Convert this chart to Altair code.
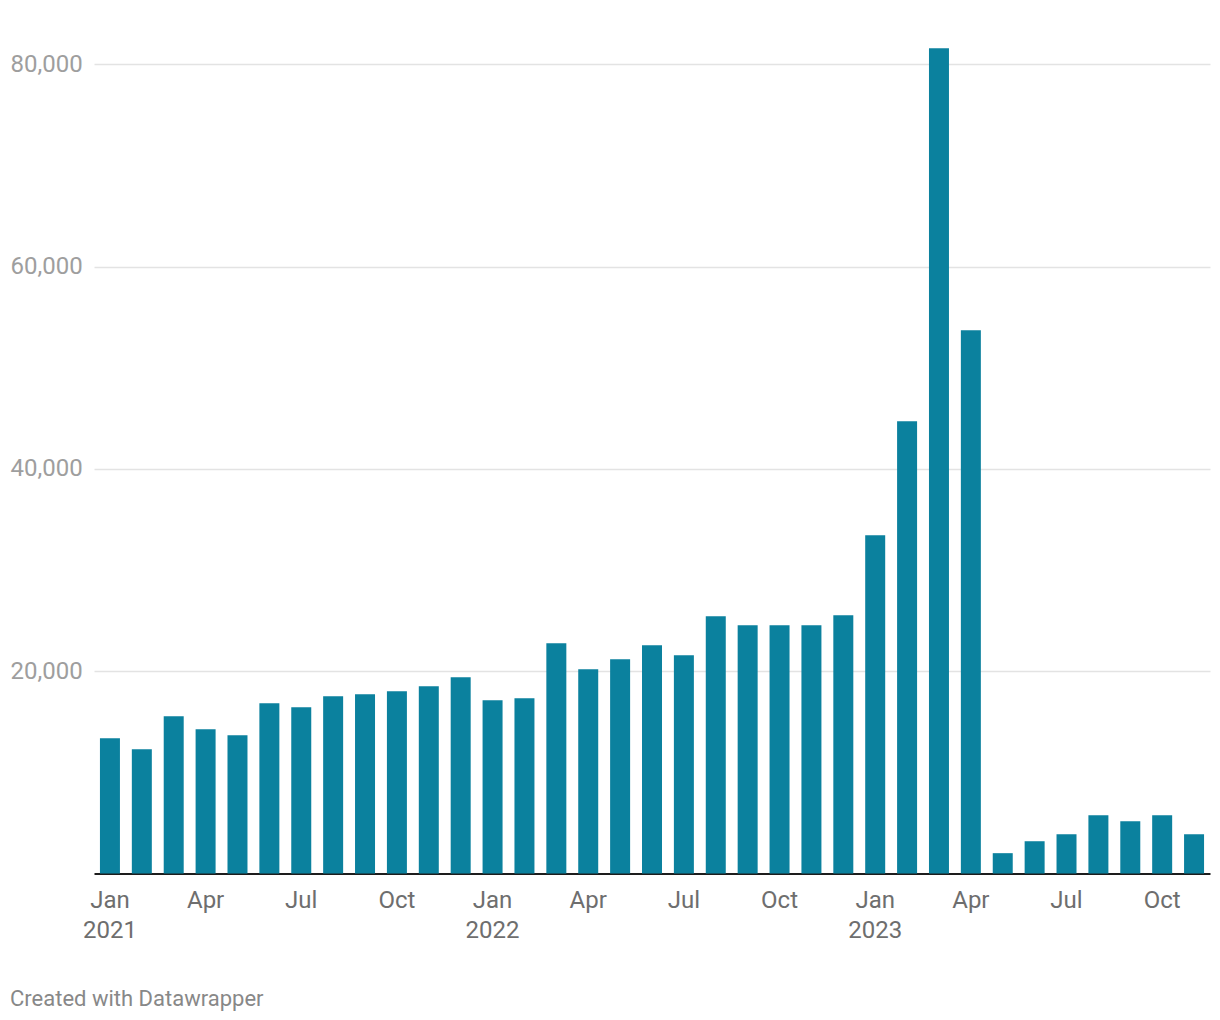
import altair as alt
import pandas as pd

months = [
    "2021-01", "2021-02", "2021-03", "2021-04", "2021-05", "2021-06",
    "2021-07", "2021-08", "2021-09", "2021-10", "2021-11", "2021-12",
    "2022-01", "2022-02", "2022-03", "2022-04", "2022-05", "2022-06",
    "2022-07", "2022-08", "2022-09", "2022-10", "2022-11", "2022-12",
    "2023-01", "2023-02", "2023-03", "2023-04", "2023-05", "2023-06",
    "2023-07", "2023-08", "2023-09", "2023-10", "2023-11",
]
values = [
    13370, 12290, 15550, 14260, 13670, 16830,
    16440, 17530, 17720, 18020, 18520, 19400,
    17130, 17330, 22770, 20200, 21180, 22570,
    21580, 25440, 24550, 24550, 24550, 25530,
    33440, 44710, 81580, 53710, 2010, 3190,
    3880, 5760, 5170, 5760, 3880,
]
tick_months = ["2021-01", "2021-04", "2021-07", "2021-10",
               "2022-01", "2022-04", "2022-07", "2022-10",
               "2023-01", "2023-04", "2023-07", "2023-10"]
tick_labels = [["Jan", "2021"], ["Apr"], ["Jul"], ["Oct"],
               ["Jan", "2022"], ["Apr"], ["Jul"], ["Oct"],
               ["Jan", "2023"], ["Apr"], ["Jul"], ["Oct"]]
y_ticks = [20000, 40000, 60000, 80000]

df = pd.DataFrame({"month": months, "value": values})

# build label expression from the tick lists
expr = "''"
for m, lab in reversed(list(zip(tick_months, tick_labels))):
    arr = "[" + ",".join("'" + s + "'" for s in lab) + "]"
    expr = f"datum.value == '{m}' ? {arr} : ({expr})"

chart = alt.Chart(df).mark_bar(color="#0b819e").encode(
    x=alt.X(
        "month:O",
        sort=None,
        scale=alt.Scale(paddingInner=0.373, paddingOuter=0.1865),
        axis=alt.Axis(
            values=tick_months,
            labelExpr=expr,
            title=None,
            ticks=False,
            grid=False,
            domain=True,
            domainColor="#1d1d1d",
            domainWidth=2,
            labelAngle=0,
            labelFont="Roboto",
            labelFontSize=24,
            labelColor="#6e6e6e",
            labelLineHeight=30,
            labelBaseline="top",
            labelPadding=15,
        ),
    ),
    y=alt.Y(
        "value:Q",
        scale=alt.Scale(domain=[0, 82000], nice=False),
        axis=alt.Axis(
            values=y_ticks,
            format=",d",
            title=None,
            ticks=False,
            domain=False,
            grid=True,
            gridColor="#e3e3e3",
            gridWidth=1.3,
            labelAlign="left",
            labelBaseline="middle",
            labelPadding=84,
            labelFont="Roboto",
            labelFontSize=24,
            labelColor="#9e9e9e",
        ),
    ),
).properties(
    width=1116,
    height=829.5,
    autosize=alt.AutoSizeParams(type="none"),
    padding={"left": 86, "top": 36, "right": 2, "bottom": 146},
    background="white",
    title=alt.TitleParams(
        text="Created with Datawrapper",
        orient="bottom",
        anchor="start",
        offset=46,
        font="Roboto",
        fontSize=22,
        fontWeight="normal",
        color="#888888",
    ),
).configure_view(stroke=None)

chart.save("out.html", embed_options={"renderer": "svg", "actions": False})
